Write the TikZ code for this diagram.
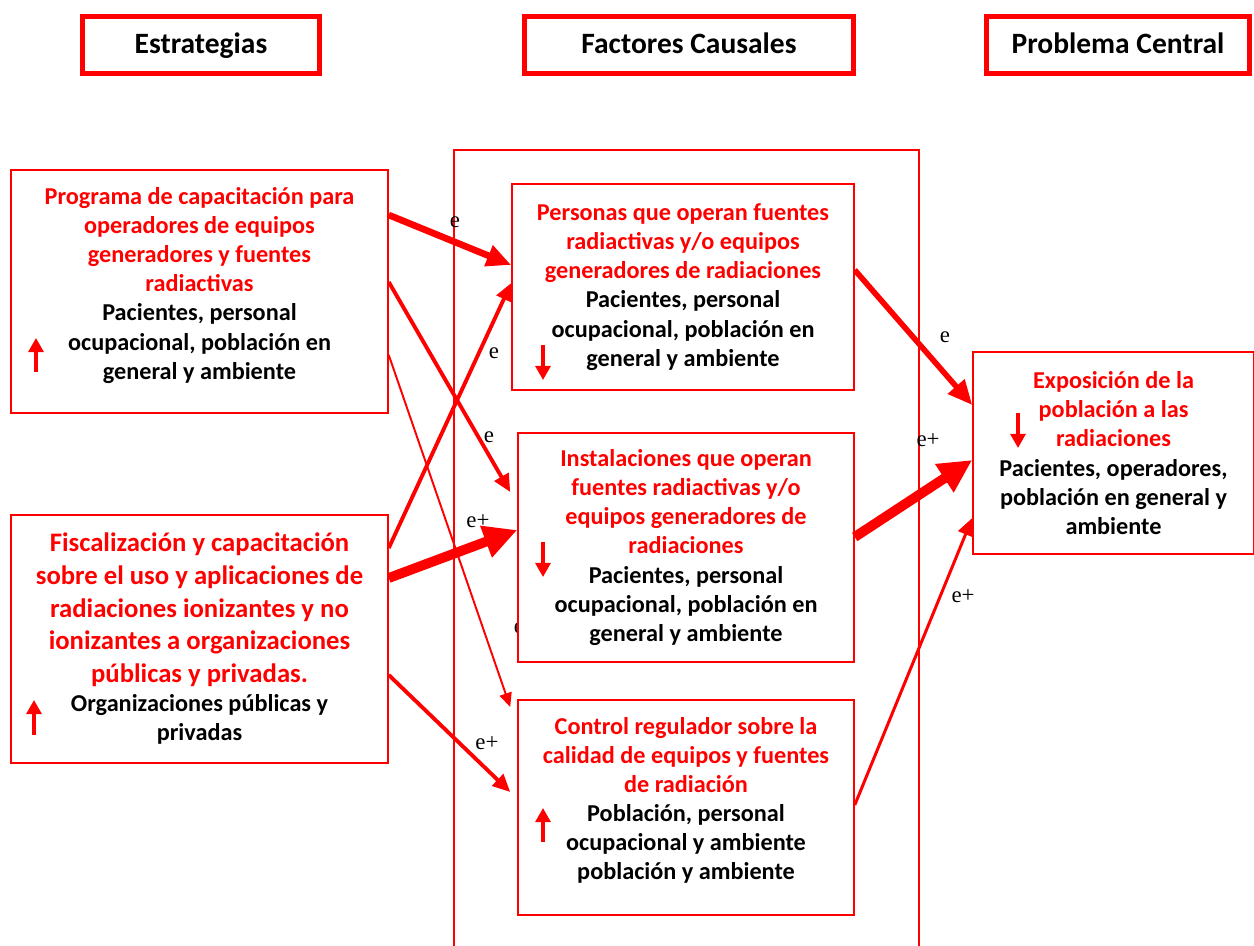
\documentclass[tikz,border=0pt]{standalone}
\usepackage{fontspec}
\setmainfont{Carlito}
\newfontfamily\labelserif{Liberation Serif}
\usetikzlibrary{arrows.meta,positioning}
\definecolor{causered}{RGB}{255,0,0}
\newcommand{\boxtext}{\bfseries\fontsize{13.8}{16.6}\selectfont}
\newcommand{\bigtext}{\bfseries\fontsize{15.2}{18.6}\selectfont}

\begin{document}
\begin{tikzpicture}[x=0.02cm,y=-0.02cm,
    head/.style={rectangle,draw=causered,line width=2.8pt,minimum height=1.14cm,
      text depth=0.25em,font=\bfseries\fontsize{16.8}{19}\selectfont},
    box/.style={rectangle,draw=causered,fill=white,line width=0.9pt,align=flush center,
      inner sep=0pt,font=\boxtext,text=causered},
    frame/.style={draw=causered,line width=0.8pt},
    lbl/.style={font=\labelserif\fontsize{13}{15}\selectfont,inner sep=1pt},
    thinarrow/.style={draw=causered,line width=1.1pt,-{Triangle[length=8pt,width=7pt]}},
    midarrow/.style={draw=causered,line width=2.2pt,-{Triangle[length=10pt,width=9pt]}},
    thickarrow/.style={draw=causered,line width=3.2pt,-{Triangle[length=14pt,width=12pt]}},
    hugearrow/.style={draw=causered,line width=5.6pt,-{Triangle[length=19pt,width=18pt]}},
    trend/.style={draw=causered,line width=1.8pt,-{Triangle[length=8pt,width=8.5pt]}}]
  \useasboundingbox (0,0) rectangle (1254,946);
  % column headers
  \node[head,minimum width=4.74cm] (hstrat) at (201,45) {Estrategias};
  \node[head,minimum width=6.58cm] (hcaus) at (689,45) {Factores Causales};
  \node[head,minimum width=5.26cm] (hprob) at (1118,45) {Problema Central};
  % frame of the causal factors
  \draw[frame] (454,946) |- (919,150) -- (919,946);
  \node[lbl] (lhid) at (519,628) {e};
  % strategies
  \node[box,minimum width=7.54cm,minimum height=4.86cm,text width=7.2cm] (le1) at (199.5,291.5)
    {Programa de capacitación para\\operadores de equipos\\generadores y fuentes\\radiactivas\par
     \color{black}Pacientes, personal\\ocupacional, población en\\general y ambiente\par\vspace{7pt}};
  \node[box,minimum width=7.54cm,minimum height=4.96cm,text width=7.2cm] (le2) at (199.5,639)
    {\bigtext Fiscalización y capacitación\\sobre el uso y aplicaciones de\\radiaciones ionizantes y no\\ionizantes a organizaciones\\públicas y privadas.\par
     \boxtext\color{black}Organizaciones públicas y\\privadas};
  % causal factors
  \node[box,minimum width=6.84cm,minimum height=4.12cm,text width=6.6cm] (mi1) at (683,287)
    {Personas que operan fuentes\\radiactivas y/o equipos\\generadores de radiaciones\par
     \color{black}Pacientes, personal\\ocupacional, población en\\general y ambiente};
  \node[box,minimum width=6.72cm,minimum height=4.58cm,text width=6.5cm] (mi2) at (686,547.5)
    {Instalaciones que operan\\fuentes radiactivas y/o\\equipos generadores de\\radiaciones\par
     \color{black}Pacientes, personal\\ocupacional, población en\\general y ambiente};
  \node[box,minimum width=6.72cm,minimum height=4.3cm,text width=6.5cm] (mi3) at (686,807.5)
    {Control regulador sobre la\\calidad de equipos y fuentes\\de radiación\par
     \color{black}Población, personal\\ocupacional y ambiente\\población y ambiente\par\vspace{8pt}};
  % central problem
  \node[box,minimum width=5.62cm,minimum height=4.04cm,text width=5.4cm] (rc) at (1113.5,453)
    {Exposición de la\\población a las\\radiaciones\par
     \color{black}Pacientes, operadores,\\población en general y\\ambiente};
  % trend marks
  \draw[trend] (36,372) -- (36,338);
  \draw[trend] (34,735) -- (34,700);
  \draw[trend] (543,345) -- (543,380);
  \draw[trend] (543,542) -- (543,577);
  \draw[trend] (543,842) -- (543,808);
  \draw[trend] (1018,413) -- (1018,448);
  % relations
  \draw[thickarrow,line width=3.8pt] (le1.east |- 0,215) -- (mi1.west |- 0,265);
  \draw[midarrow] (le1.east |- 0,282) -- ([xshift=-4pt]mi2.west |- 0,492);
  \draw[thinarrow] (le1.east |- 0,355) -- ([xshift=-4pt]mi3.west |- 0,707);
  \draw[midarrow] (le2.east |- 0,548) -- (mi1.west |- 0,283);
  \draw[hugearrow] (le2.east |- 0,578) -- (mi2.west |- 0,530);
  \draw[midarrow] (le2.east |- 0,675) -- ([xshift=-4pt]mi3.west |- 0,792);
  \draw[thickarrow] (mi1.east |- 0,270) -- (rc.west |- 0,405);
  \draw[hugearrow] (mi2.east |- 0,537) -- (rc.west |- 0,460);
  \draw[midarrow,line width=1.7pt] (mi3.east |- 0,805) -- (rc.west |- 0,518);
  % labels
  \node[lbl] (l1) at (455,222) {e};
  \node[lbl] (l2) at (494,353) {e};
  \node[lbl] (l3) at (489,437) {e};
  \node[lbl] (l4) at (478,521) {e+};
  \node[lbl] (l5) at (487,743) {e+};
  \node[lbl] (l6) at (945,337) {e};
  \node[lbl] (l7) at (928,440) {e+};
  \node[lbl] (l8) at (963,596) {e+};
\end{tikzpicture}
\end{document}
